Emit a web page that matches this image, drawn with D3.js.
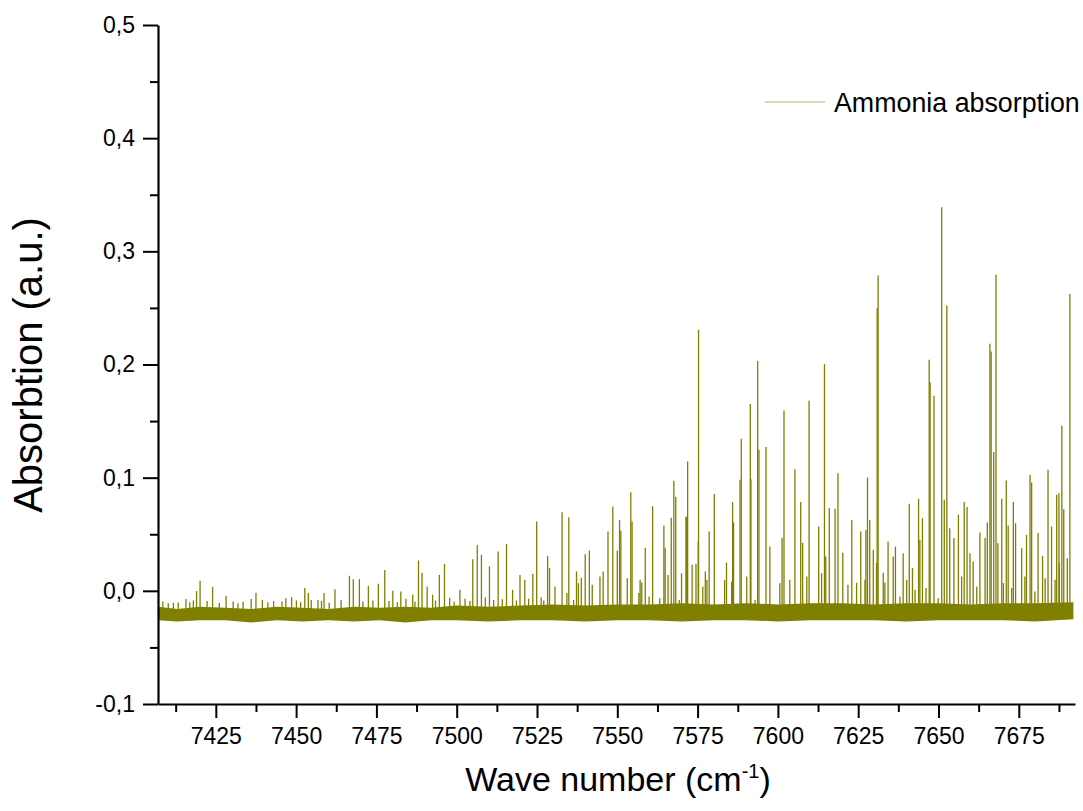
<!DOCTYPE html>
<html>
<head>
<meta charset="utf-8">
<script src="https://cdn.jsdelivr.net/npm/d3@7"></script>
<style>
  body { margin: 0; background: #fff; }
  text { font-family: "Liberation Sans", Arial, sans-serif; fill: #000; }
</style>
</head>
<body>
<div class="content"></div>
<script>
// ---- data ----
// baseline noise band (upper / lower envelope)
const baseWn    = [7407, 7413, 7420, 7428, 7436, 7444, 7452, 7460, 7468, 7476, 7484, 7492, 7500, 7510, 7520, 7530, 7540, 7550, 7560, 7570, 7580, 7590, 7600, 7610, 7620, 7630, 7640, 7650, 7660, 7670, 7680, 7692];
const baseUpper = [-0.014, -0.016, -0.014, -0.015, -0.016, -0.014, -0.015, -0.016, -0.014, -0.015, -0.014, -0.015, -0.013, -0.014, -0.013, -0.012, -0.013, -0.012, -0.012, -0.011, -0.012, -0.011, -0.012, -0.011, -0.011, -0.012, -0.011, -0.011, -0.012, -0.011, -0.011, -0.010];
const baseLower = [-0.026, -0.027, -0.026, -0.026, -0.028, -0.026, -0.027, -0.026, -0.027, -0.026, -0.028, -0.026, -0.026, -0.027, -0.026, -0.026, -0.027, -0.026, -0.026, -0.027, -0.026, -0.026, -0.027, -0.026, -0.026, -0.026, -0.027, -0.026, -0.026, -0.026, -0.027, -0.025];

// absorption lines: position (cm-1) and peak value
const peakWn = [
  7408.5, 7413.3, 7415.7, 7418.0, 7419.0, 7420.1, 7424.0, 7428.2, 7433.5, 7436.0,
  7437.5, 7439.5, 7445.6, 7446.8, 7448.6, 7452.7, 7453.8, 7454.7, 7456.8, 7458.7,
  7462.1, 7466.6, 7467.8, 7469.7, 7472.5, 7475.6, 7477.6, 7480.1, 7482.6, 7486.3,
  7488.1, 7489.2, 7490.8, 7492.5, 7494.6, 7496.2, 7501.0, 7505.0, 7506.4, 7507.7,
  7510.2, 7512.9, 7515.5, 7517.4, 7519.7, 7521.2, 7523.7, 7524.9, 7528.3, 7528.9,
  7532.8, 7534.9, 7537.3, 7540.0, 7541.3, 7547.1, 7548.6, 7550.7, 7551.1, 7554.2,
  7554.6, 7558.7, 7561.0, 7564.5, 7564.9, 7566.8, 7567.6, 7568.2, 7571.4, 7571.9,
  7575.2, 7575.3, 7578.6, 7580.2, 7584.0, 7585.9, 7586.2, 7588.2, 7588.6, 7591.4,
  7591.6, 7593.7, 7594.1, 7596.3, 7597.5, 7601.3, 7601.9, 7605.3, 7607.1, 7607.7,
  7609.7, 7612.7, 7614.5, 7614.9, 7616.0, 7617.8, 7618.7, 7620.2, 7621.8, 7623.0,
  7624.5, 7625.8, 7627.4, 7627.9, 7628.6, 7629.7, 7630.7, 7630.9, 7631.2, 7632.8,
  7634.3, 7635.9, 7636.6, 7639.0, 7640.9, 7641.9, 7643.8, 7644.2, 7645.0, 7647.1,
  7647.4, 7648.6, 7651.0, 7651.8, 7652.6, 7653.5, 7654.8, 7656.2, 7658.0, 7658.9,
  7659.8, 7660.8, 7662.9, 7664.5, 7665.2, 7666.0, 7666.4, 7667.2, 7667.9, 7668.5,
  7669.7, 7671.1, 7671.7, 7673.3, 7674.0, 7675.9, 7677.4, 7678.5, 7679.0, 7681.0,
  7682.4, 7684.1, 7685.2, 7686.8, 7687.5, 7688.4, 7689.0, 7690.1, 7690.9
];
const peakVal = [
  -0.0095, -0.0103, -0.0073, -0.0086, -0.0002, 0.0088, 0.0035, -0.0044, -0.0097, -0.0073,
  -0.0018, -0.0080, -0.0095, -0.0065, -0.0056, 0.0024, -0.0020, -0.0080, -0.0082, -0.0020,
  0.0015, 0.0133, 0.0103, 0.0103, 0.0044, 0.0062, 0.0183, 0.0000, -0.0006, -0.0035,
  0.0268, 0.0159, 0.0038, -0.0035, 0.0141, 0.0237, 0.0009, 0.0280, 0.0404, 0.0318,
  0.0216, 0.0347, 0.0414, 0.0009, 0.0141, 0.0097, 0.0150, 0.0612, 0.0309, 0.0203,
  0.0695, 0.0651, 0.0171, 0.0324, 0.0356, 0.0524, 0.0745, 0.0627, 0.0530, 0.0872,
  0.0612, 0.0380, 0.0748, 0.0577, 0.0380, 0.0645, 0.0972, 0.0831, 0.0657, 0.1143,
  0.0436, 0.2306, 0.0524, 0.0855, 0.0250, 0.0784, 0.0604, 0.0981, 0.1343, 0.1652,
  0.0985, 0.2032, 0.1246, 0.1270, 0.0391, 0.0468, 0.1593, 0.1075, 0.0784, 0.0424,
  0.1679, 0.0568, 0.2003, 0.0303, 0.0731, 0.0725, 0.1040, 0.0336, 0.0053, 0.0627,
  0.0071, 0.0524, 0.0539, 0.1001, 0.0627, 0.0362, 0.0247, 0.2498, 0.2786, 0.0159,
  0.0436, 0.0303, 0.0391, 0.0333, 0.0769, 0.0201, 0.0813, 0.0451, 0.0642, 0.2041,
  0.1841, 0.1723, 0.3390, 0.0804, 0.2521, 0.0554, 0.0466, 0.0672, 0.0784, 0.0740,
  0.0333, 0.0259, 0.0515, 0.0466, 0.0604, 0.2183, 0.2115, 0.1226, 0.2792, 0.0421,
  0.0813, 0.0975, 0.0577, 0.0784, 0.0598, 0.0377, 0.0495, 0.1025, 0.0957, 0.0510,
  0.0309, 0.1069, 0.0568, 0.0848, 0.0863, 0.1458, 0.0722, 0.0289, 0.2624
];

// small lines sitting just above the noise
const grassWn = [
  7410.2, 7411.8, 7416.9, 7422.3, 7426.1, 7430.4, 7431.9, 7441.2, 7443.0, 7450.1,
  7451.4, 7457.9, 7460.3, 7464.0, 7470.8, 7473.9, 7478.9, 7481.5, 7484.2, 7487.0,
  7493.4, 7497.8, 7499.2, 7502.6, 7504.1, 7508.9, 7511.5, 7514.2, 7518.6, 7522.4,
  7526.3, 7527.1,
  7530.6, 7534.3, 7536.4, 7537.9, 7538.8, 7542.2, 7544.6, 7545.6, 7550.0, 7553.1,
  7556.7, 7557.1, 7557.6, 7559.9, 7563.2, 7565.8, 7569.3, 7570.0, 7571.5, 7573.3,
  7574.5, 7576.6, 7577.4, 7577.9, 7583.4, 7585.6, 7590.3, 7592.9, 7600.6, 7603.7,
  7609.0, 7613.6, 7627.1, 7633.3, 7638.0, 7640.1, 7642.7, 7646.1, 7649.9, 7657.2,
  7661.9, 7670.2, 7672.8, 7676.9, 7680.0, 7683.2, 7686.3, 7687.6
];
const grassVal = [
  -0.0110, -0.0105, -0.0100, -0.0090, -0.0105, -0.0095, -0.0110, -0.0100, -0.0090, -0.0085,
  -0.0100, -0.0090, -0.0105, -0.0080, -0.0095, -0.0085, -0.0090, -0.0100, -0.0070, -0.0095,
  -0.0085, -0.0060, -0.0095, -0.0070, -0.0090, -0.0060, -0.0080, -0.0075, -0.0085, -0.0070,
  -0.0060, -0.0085,
  0.0038, -0.0020, -0.0080, 0.0068, 0.0115, 0.0053, 0.0126, 0.0171, 0.0356, 0.0112,
  -0.0020, 0.0097, 0.0073, -0.0050, -0.0065, 0.0141, -0.0080, 0.0156, 0.0651, 0.0230,
  0.0239, 0.0038, 0.0171, 0.0097, 0.0097, 0.0082, 0.0126, -0.0080, 0.0068, 0.0097,
  0.0126, 0.0156, 0.0097, 0.0073, -0.0050, 0.0097, 0.0009, 0.0024, -0.0065, 0.0126,
  0.0038, 0.0068, 0.0024, 0.0126, -0.0006, 0.0112, 0.0097, 0.0245
];

const yTicks = [-0.1, 0.0, 0.1, 0.2, 0.3, 0.4, 0.5];
const yMinor = [-0.05, 0.05, 0.15, 0.25, 0.35, 0.45];
const xTicks = [7425, 7450, 7475, 7500, 7525, 7550, 7575, 7600, 7625, 7650, 7675];
const xMinor = [7412.5, 7437.5, 7462.5, 7487.5, 7512.5, 7537.5, 7562.5, 7587.5, 7612.5, 7637.5, 7662.5, 7687.5];

const seriesName = "Ammonia absorption";
const lineColor = "#7f7f00";

// ---- layout ----
const W = 1083, H = 811;
const margin = { top: 25, right: 8, bottom: 107, left: 158 };

const svg = d3.select('.content')
  .append('svg')
  .attr('width', W)
  .attr('height', H);

const x = d3.scaleLinear().domain([7407, 7692.5]).range([margin.left, W - margin.right]);
const y = d3.scaleLinear().domain([-0.1, 0.5]).range([H - margin.bottom, margin.top]);

const fmt = d => (d < -1e-9 ? "-" : "") + Math.abs(d).toFixed(1).replace(".", ",");

// baseline band
const base = baseWn.map((w, i) => ({ w: w, hi: baseUpper[i], lo: baseLower[i] }));
svg.append("path")
  .datum(base)
  .attr("fill", lineColor)
  .attr("d", d3.area().x(d => x(d.w)).y0(d => y(d.lo)).y1(d => y(d.hi)));

// lines
const lines = peakWn.map((w, i) => ({ w: w, v: peakVal[i] }))
  .concat(grassWn.map((w, i) => ({ w: w, v: grassVal[i] })));

svg.selectAll(".peak")
  .data(lines)
  .enter().append("line")
  .attr("class", "peak")
  .attr("x1", d => x(d.w))
  .attr("x2", d => x(d.w))
  .attr("y1", y(-0.02))
  .attr("y2", d => y(d.v))
  .attr("stroke", lineColor)
  .attr("stroke-width", 1.3);

// axes
const yAxis = svg.append("g")
  .attr("transform", `translate(${margin.left},0)`)
  .call(d3.axisLeft(y).tickValues(yTicks).tickFormat(fmt).tickSize(15).tickPadding(8).tickSizeOuter(0));
yAxis.selectAll(".tick line").attr("stroke-width", 2);
yAxis.selectAll("text").attr("font-size", 23).attr("font-family", "Liberation Sans, Arial, sans-serif");
yAxis.select(".domain").attr("stroke-width", 2.2);

svg.append("g")
  .attr("transform", `translate(${margin.left},0)`)
  .call(d3.axisLeft(y).tickValues(yMinor).tickFormat("").tickSize(8).tickSizeOuter(0))
  .call(g => g.select(".domain").remove())
  .selectAll(".tick line").attr("stroke-width", 2);

const xAxis = svg.append("g")
  .attr("transform", `translate(0,${H - margin.bottom})`)
  .call(d3.axisBottom(x).tickValues(xTicks).tickFormat(d3.format("d")).tickSize(14).tickPadding(10).tickSizeOuter(0));
xAxis.selectAll(".tick line").attr("stroke-width", 2);
xAxis.selectAll("text").attr("font-size", 23).attr("font-family", "Liberation Sans, Arial, sans-serif");
xAxis.select(".domain").attr("stroke-width", 2.2);

svg.append("g")
  .attr("transform", `translate(0,${H - margin.bottom})`)
  .call(d3.axisBottom(x).tickValues(xMinor).tickFormat("").tickSize(8).tickSizeOuter(0))
  .call(g => g.select(".domain").remove())
  .selectAll(".tick line").attr("stroke-width", 2);

// axis titles
const xt = svg.append("text")
  .attr("x", 618)
  .attr("y", 791)
  .attr("text-anchor", "middle")
  .attr("font-size", 34);
xt.append("tspan").text("Wave number (cm");
xt.append("tspan").attr("font-size", 20).attr("dy", -13).text("-1");
xt.append("tspan").attr("dy", 13).text(")");

svg.append("text")
  .attr("transform", "translate(42,365) rotate(-90)")
  .attr("text-anchor", "middle")
  .attr("font-size", 40)
  .text("Absorbtion (a.u.)");

// legend
svg.append("line")
  .attr("x1", 765).attr("x2", 825)
  .attr("y1", 102).attr("y2", 102)
  .attr("stroke", "#b3b36a")
  .attr("stroke-width", 1.2);
svg.append("text")
  .attr("x", 834)
  .attr("y", 112)
  .attr("font-size", 26.8)
  .text(seriesName);
</script>
</body>
</html>
